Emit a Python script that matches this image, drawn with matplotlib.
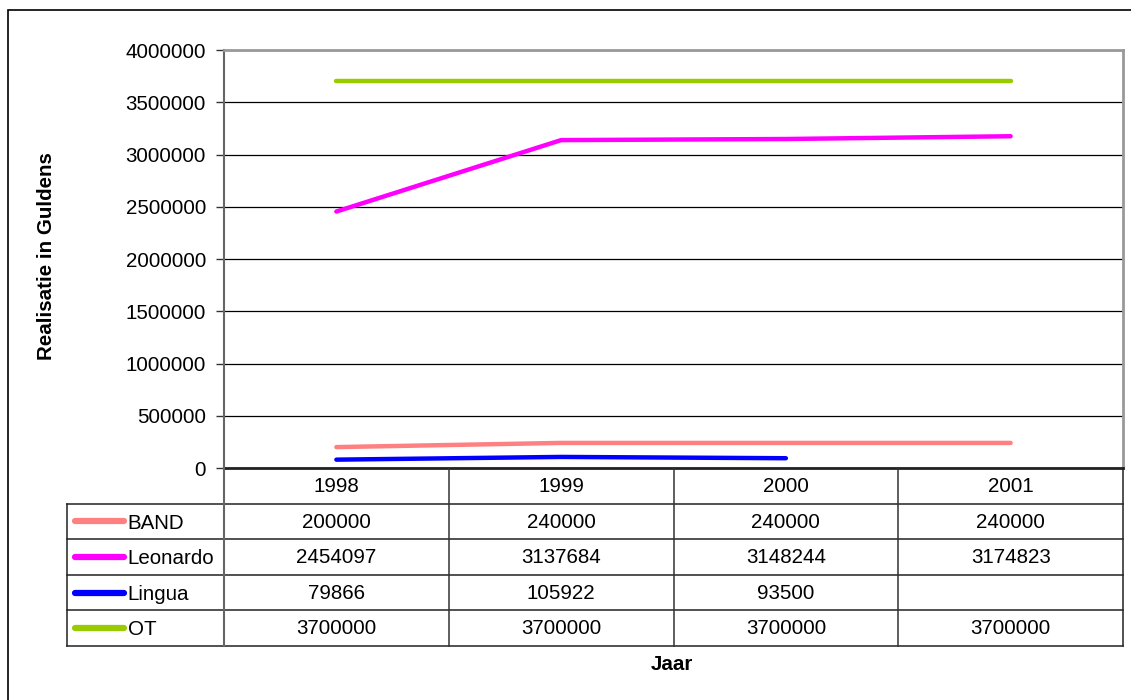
import numpy as np
import matplotlib
matplotlib.use('Agg')
import matplotlib.pyplot as plt
from matplotlib.patches import Rectangle
from matplotlib.lines import Line2D

plt.rcParams['font.family'] = ['Liberation Sans', 'DejaVu Sans']

years = ['1998', '1999', '2000', '2001']
series = ['BAND', 'Leonardo', 'Lingua', 'OT']
band = [200000, 240000, 240000, 240000]
leonardo = [2454097, 3137684, 3148244, 3174823]
lingua = [79866, 105922, 93500, None]
ot = [3700000, 3700000, 3700000, 3700000]
colors = ['#ff8080', '#ff00ff', '#0000ff', '#99cc00']
yticks = np.arange(0, 4000001, 500000)

W, H = 1131, 700
fig = plt.figure(figsize=(W / 100, H / 100), dpi=100)

def fx(px):
    return px / W

def fy(py):
    return 1 - py / H

# outer chart border
fig.patches.append(Rectangle((fx(8), fy(705)), fx(1135) - fx(8), fy(10) - fy(705),
                             transform=fig.transFigure, fill=False, ec='black', lw=1.2))

ax = fig.add_axes([fx(224), fy(468), fx(1123) - fx(224), fy(50) - fy(468)])
x = np.arange(len(years))
data = [band, leonardo, lingua, ot]
for vals, c in zip(data, colors):
    v = np.array([np.nan if d is None else d for d in vals], dtype=float)
    ax.plot(x, v, color=c, lw=3.2, solid_capstyle='round', solid_joinstyle='round')

ax.set_xlim(-0.5, 3.5)
ax.set_ylim(0, 4000000)
ax.set_yticks(yticks)
ax.set_yticklabels([str(t) for t in yticks], fontsize=14.8)
ax.set_xticks([])
ax.grid(axis='y', color='black', lw=0.9)
ax.set_axisbelow(True)
ax.tick_params(axis='y', length=6, width=1, pad=7, color='#333333')
for s in ['top', 'right']:
    ax.spines[s].set_color('#999999')
    ax.spines[s].set_linewidth(2)
ax.spines['left'].set_color('#666666')
ax.spines['left'].set_linewidth(1.5)
ax.spines['bottom'].set_color('#222222')
ax.spines['bottom'].set_linewidth(2)
ax.set_ylabel('Realisatie in Guldens', fontsize=14.8, fontweight='bold')
ax.yaxis.set_label_coords((56 - 224) / 899, (468 - 256) / 418)

# data table below the plot
tx0, tx1 = 67, 1123
ty0, ty1 = 468, 646
unit = (1123 - 224) / 4
tab = fig.add_axes([fx(tx0), fy(ty1), fx(tx1) - fx(tx0), fy(ty0) - fy(ty1)])
tab.set_xlim(-0.5 - (224 - tx0) / unit, 3.5)
tab.set_ylim(5, 0)
tab.axis('off')
left = -0.5 - (224 - tx0) / unit

lc = '#222222'
# horizontal row lines
for r in range(1, 6):
    tab.plot([left, 3.5], [r, r], color=lc, lw=1.1, clip_on=False)
# vertical lines
tab.plot([left, left], [1, 5], color=lc, lw=1.1, clip_on=False)
tab.plot([-0.5, -0.5], [0, 5], color='#666666', lw=1.5, clip_on=False)
for i in range(1, 4):
    tab.plot([i - 0.5, i - 0.5], [0, 5], color='#333333', lw=1.1, clip_on=False)
tab.plot([3.5, 3.5], [0, 5], color=lc, lw=1.1, clip_on=False)

for i, yr in enumerate(years):
    tab.text(i, 0.52, yr, ha='center', va='center', fontsize=14.8)
for r, (name, vals, c) in enumerate(zip(series, data, colors), start=1):
    tab.add_line(Line2D([left + 0.035, left + 0.255], [r + 0.5, r + 0.5], color=c, lw=4.5,
                        solid_capstyle='round', clip_on=False))
    tab.text(left + 0.27, r + 0.55, name, ha='left', va='center', fontsize=14.8)
    for i, v in enumerate(vals):
        if v is not None:
            tab.text(i, r + 0.52, str(v), ha='center', va='center', fontsize=14.8)

fig.text(fx(672), fy(665), 'Jaar', ha='center', va='center', fontsize=14.8, fontweight='bold')

fig.savefig('out.png', dpi=100)
